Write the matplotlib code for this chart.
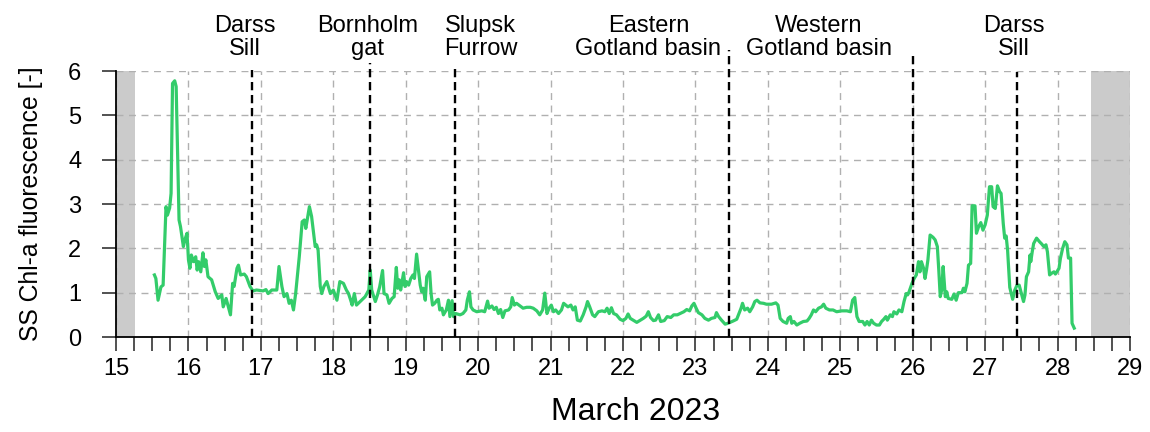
import numpy as np
import matplotlib
matplotlib.use("Agg")
import matplotlib.pyplot as plt
from matplotlib.ticker import MultipleLocator, FixedLocator
from matplotlib.transforms import blended_transform_factory

plt.rcParams['font.family'] = ['Liberation Sans', 'DejaVu Sans']

# Time axis in days of March 2023, surface chlorophyll-a fluorescence
day = [
    15.53, 15.55, 15.58, 15.62, 15.65, 15.69, 15.71, 15.74, 15.76, 15.78, 15.81, 15.83, 15.87, 15.89,
    15.93, 15.95, 15.98, 16.00, 16.02, 16.04, 16.07, 16.10, 16.12, 16.14, 16.17, 16.20, 16.22, 16.24,
    16.27, 16.32, 16.37, 16.41, 16.46, 16.48, 16.52, 16.55, 16.58, 16.61, 16.63, 16.67, 16.69, 16.72,
    16.77, 16.80, 16.85, 16.89, 16.94, 17.03, 17.07, 17.10, 17.15, 17.22, 17.25, 17.29, 17.32, 17.36,
    17.39, 17.42, 17.45, 17.48, 17.53, 17.57, 17.60, 17.62, 17.65, 17.67, 17.70, 17.72, 17.75, 17.77,
    17.79, 17.82, 17.84, 17.87, 17.91, 17.93, 17.96, 18.00, 18.05, 18.09, 18.14, 18.18, 18.21, 18.24,
    18.26, 18.29, 18.32, 18.39, 18.44, 18.49,
    18.51, 18.53, 18.58, 18.61, 18.64, 18.68, 18.70, 18.74, 18.77, 18.81, 18.84, 18.87, 18.89, 18.91,
    18.93, 18.97, 18.99, 19.01, 19.04, 19.07, 19.10, 19.12, 19.15, 19.17, 19.20, 19.22, 19.24, 19.27,
    19.29, 19.33, 19.35, 19.37, 19.40, 19.43, 19.45, 19.47, 19.50, 19.52, 19.56, 19.59, 19.61, 19.64,
    19.66, 19.69, 19.75, 19.79, 19.83, 19.85, 19.88, 19.90, 19.93, 19.98, 20.05, 20.09, 20.13, 20.15,
    20.19, 20.22, 20.25, 20.28, 20.31, 20.34, 20.37, 20.42, 20.45, 20.47, 20.50, 20.53, 20.58, 20.62,
    20.67, 20.72, 20.76, 20.81, 20.85,
    20.89, 20.92, 20.95, 20.98, 21.01, 21.04, 21.07, 21.11, 21.15, 21.18, 21.21, 21.24, 21.28, 21.31,
    21.34, 21.37, 21.41, 21.45, 21.49, 21.51, 21.54, 21.58, 21.61, 21.66, 21.71, 21.75, 21.78, 21.81,
    21.84, 21.87, 21.91, 21.96, 22.00, 22.04, 22.07, 22.10, 22.14, 22.19, 22.23, 22.28, 22.32, 22.35,
    22.38, 22.42, 22.45, 22.49, 22.52, 22.57, 22.61, 22.66, 22.70, 22.75, 22.79, 22.84, 22.88, 22.92,
    22.95, 22.98, 23.01, 23.04, 23.09, 23.13, 23.18, 23.22, 23.27, 23.29, 23.32, 23.36, 23.41,
    23.45, 23.52, 23.57, 23.61, 23.63, 23.65, 23.68, 23.72, 23.75, 23.79, 23.82, 23.85, 23.89, 23.94,
    23.98, 24.05, 24.11, 24.14, 24.17, 24.21, 24.26, 24.28, 24.31, 24.33, 24.36, 24.40, 24.44, 24.49,
    24.54, 24.57, 24.60, 24.63, 24.66, 24.70, 24.74, 24.77, 24.80, 24.85, 24.90, 24.95, 25.02, 25.09,
    25.14, 25.17, 25.20, 25.23, 25.26, 25.31, 25.34, 25.37, 25.40, 25.43, 25.46, 25.50, 25.54, 25.57,
    25.60, 25.63, 25.65, 25.69, 25.72, 25.74, 25.78, 25.81, 25.85, 25.88,
    25.91, 25.93, 25.95, 25.99, 26.02, 26.05, 26.08, 26.10, 26.12, 26.15, 26.17, 26.19, 26.21, 26.24,
    26.28, 26.31, 26.34, 26.36, 26.38, 26.40, 26.42, 26.45, 26.47, 26.49, 26.54, 26.57, 26.60, 26.63,
    26.68, 26.70, 26.72, 26.75, 26.77, 26.80, 26.82, 26.86, 26.88, 26.91, 26.94, 26.97, 27.00, 27.03,
    27.06, 27.09, 27.11, 27.14, 27.17, 27.20, 27.22, 27.25, 27.27, 27.29, 27.31,
    27.34, 27.38, 27.41, 27.44, 27.47, 27.50, 27.53, 27.55, 27.57, 27.60, 27.62, 27.63, 27.65, 27.67,
    27.71, 27.75, 27.78, 27.81, 27.84, 27.86, 27.89, 27.92, 27.95, 27.97, 27.99, 28.02, 28.04, 28.07,
    28.10, 28.13, 28.15, 28.18, 28.20, 28.23,
]
chl = [
    1.40, 1.32, 0.83, 1.13, 1.17, 2.94, 2.75, 2.91, 3.24, 5.72, 5.78, 5.65, 2.64, 2.49,
    2.04, 2.19, 2.34, 1.74, 1.55, 1.85, 1.70, 1.81, 1.51, 1.70, 1.47, 1.90, 1.59, 1.74,
    1.36, 1.29, 1.02, 0.87, 0.95, 0.68, 0.87, 0.68, 0.50, 1.21, 1.14, 1.55, 1.62, 1.40,
    1.42, 1.36, 1.14, 1.04, 1.06, 1.04, 1.07, 0.98, 1.06, 1.06, 1.59, 1.14, 0.91, 0.98,
    0.76, 0.83, 0.61, 0.98, 1.81, 2.60, 2.64, 2.45, 2.75, 2.94, 2.72, 2.45, 2.04, 2.08,
    1.96, 1.14, 0.98, 1.14, 1.25, 1.14, 0.98, 1.06, 0.83, 1.25, 1.21, 1.06, 0.98, 0.83,
    0.72, 0.98, 0.72, 0.83, 0.91, 1.06,
    1.51, 1.06, 0.80, 0.95, 1.13, 1.50, 0.98, 0.95, 0.76, 0.87, 0.91, 1.57, 1.10, 1.29,
    1.06, 1.45, 1.14, 1.25, 1.17, 1.32, 1.40, 1.32, 1.87, 1.59, 1.17, 1.02, 1.10, 0.83,
    1.36, 1.47, 0.98, 0.72, 0.76, 0.83, 0.85, 0.61, 0.65, 0.50, 0.61, 0.83, 0.46, 0.82,
    0.46, 0.53, 0.50, 0.53, 0.61, 0.83, 1.02, 0.68, 0.61, 0.57, 0.59, 0.57, 0.81, 0.65,
    0.70, 0.62, 0.67, 0.53, 0.62, 0.44, 0.59, 0.61, 0.68, 0.89, 0.72, 0.76, 0.70, 0.65,
    0.67, 0.67, 0.65, 0.59, 0.50,
    0.61, 0.99, 0.53, 0.65, 0.72, 0.57, 0.61, 0.53, 0.61, 0.76, 0.72, 0.68, 0.72, 0.61,
    0.68, 0.38, 0.36, 0.50, 0.68, 0.80, 0.68, 0.50, 0.46, 0.57, 0.59, 0.57, 0.65, 0.53,
    0.66, 0.53, 0.50, 0.40, 0.37, 0.42, 0.52, 0.42, 0.38, 0.33, 0.37, 0.42, 0.47, 0.57,
    0.44, 0.37, 0.38, 0.50, 0.35, 0.37, 0.46, 0.44, 0.50, 0.50, 0.53, 0.57, 0.62, 0.59,
    0.70, 0.76, 0.65, 0.55, 0.50, 0.42, 0.38, 0.42, 0.44, 0.55, 0.46, 0.38, 0.29,
    0.31, 0.36, 0.40, 0.57, 0.65, 0.76, 0.61, 0.65, 0.57, 0.68, 0.80, 0.83, 0.77, 0.76,
    0.74, 0.74, 0.77, 0.72, 0.42, 0.35, 0.31, 0.42, 0.46, 0.31, 0.35, 0.27, 0.31, 0.35,
    0.36, 0.42, 0.50, 0.61, 0.57, 0.65, 0.68, 0.74, 0.65, 0.61, 0.61, 0.57, 0.59, 0.59,
    0.57, 0.83, 0.89, 0.46, 0.35, 0.35, 0.27, 0.35, 0.27, 0.38, 0.31, 0.27, 0.27, 0.35,
    0.40, 0.46, 0.38, 0.50, 0.46, 0.57, 0.52, 0.61, 0.57, 0.80,
    0.98, 0.95, 1.02, 1.21, 1.32, 1.40, 1.70, 1.47, 1.70, 1.55, 1.32, 1.51, 1.74, 2.30,
    2.25, 2.19, 2.04, 1.51, 0.91, 1.06, 1.59, 0.91, 1.02, 0.87, 0.85, 0.97, 0.83, 1.00,
    1.00, 1.10, 1.02, 1.21, 1.62, 1.66, 2.96, 2.96, 2.34, 2.49, 2.58, 2.41, 2.53, 2.75,
    3.39, 3.39, 2.94, 2.90, 3.41, 3.28, 3.24, 2.56, 2.23, 2.28, 1.96,
    1.12, 0.85, 1.06, 1.17, 1.17, 0.98, 0.80, 0.95, 1.36, 1.47, 1.85, 1.70, 1.92, 2.11,
    2.23, 2.15, 2.10, 2.04, 2.08, 1.92, 1.40, 1.44, 1.47, 1.42, 1.47, 1.55, 1.78, 2.00,
    2.15, 2.08, 1.78, 1.78, 0.31, 0.20,
]

# Transect sections: boundary times and labels
section_bounds = [16.88, 18.51, 19.68, 23.46, 26.00, 27.44]
bound_tops = [1.004, 1.030, 1.019, 1.079, 1.071, 0.996]
section_names = ["Darss\nSill", "Bornholm\ngat", "Slupsk\nFurrow",
                 "Eastern\nGotland basin", "Western\nGotland basin", "Darss\nSill"]
section_label_x = [16.78, 18.47, 20.03, 22.35, 24.70, 27.40]

# Periods outside the cruise
no_data_spans = [(15.0, 15.26), (28.46, 29.0)]

x_ticks = list(range(15, 30))
y_ticks = list(range(0, 7))

fig = plt.figure(figsize=(11.5, 4.32), dpi=100)
ax = fig.add_axes([0.1009, 0.2199, 0.8817, 0.6157])

for x0, x1 in no_data_spans:
    ax.axvspan(x0, x1, color="#cbcbcb", lw=0, zorder=0)

ax.set_xlim(15, 29)
ax.set_ylim(0, 6)
ax.xaxis.set_major_locator(FixedLocator(x_ticks))
ax.xaxis.set_minor_locator(MultipleLocator(0.25))
ax.yaxis.set_major_locator(FixedLocator(y_ticks))
ax.set_xticklabels([str(t) for t in x_ticks])

ax.grid(True, which="major", color="#b0b0b0", linestyle=(0, (5, 4)), linewidth=1.0, zorder=1)
ax.set_axisbelow(True)

ax.plot(day, chl, color="#33cc6a", linewidth=2.3, zorder=3, solid_joinstyle="round")

trans = blended_transform_factory(ax.transData, ax.transAxes)
for xb, top in zip(section_bounds, bound_tops):
    ax.plot([xb, xb], [0, top], transform=trans, color="black", linestyle=(0, (3.5, 2)),
            linewidth=1.7, clip_on=False, zorder=4)
for xl, name in zip(section_label_x, section_names):
    ax.text(xl, 1.040, name, transform=trans, ha="center", va="bottom",
            fontsize=17, linespacing=1.1)

for side in ("top", "right"):
    ax.spines[side].set_visible(False)
for side in ("left", "bottom"):
    ax.spines[side].set_linewidth(1.3)
    ax.spines[side].set_color("black")

ax.tick_params(axis="both", which="both", direction="out", length=10, width=1.2,
               labelsize=17, color="#333333")
ax.tick_params(axis="x", pad=5)
ax.tick_params(axis="y", pad=15)

ax.set_xlabel("March 2023", fontsize=23, labelpad=12, x=0.512)
ax.set_ylabel("SS Chl-a fluorescence [-]", fontsize=17.8, labelpad=18)

fig.savefig("out.png", dpi=100)
